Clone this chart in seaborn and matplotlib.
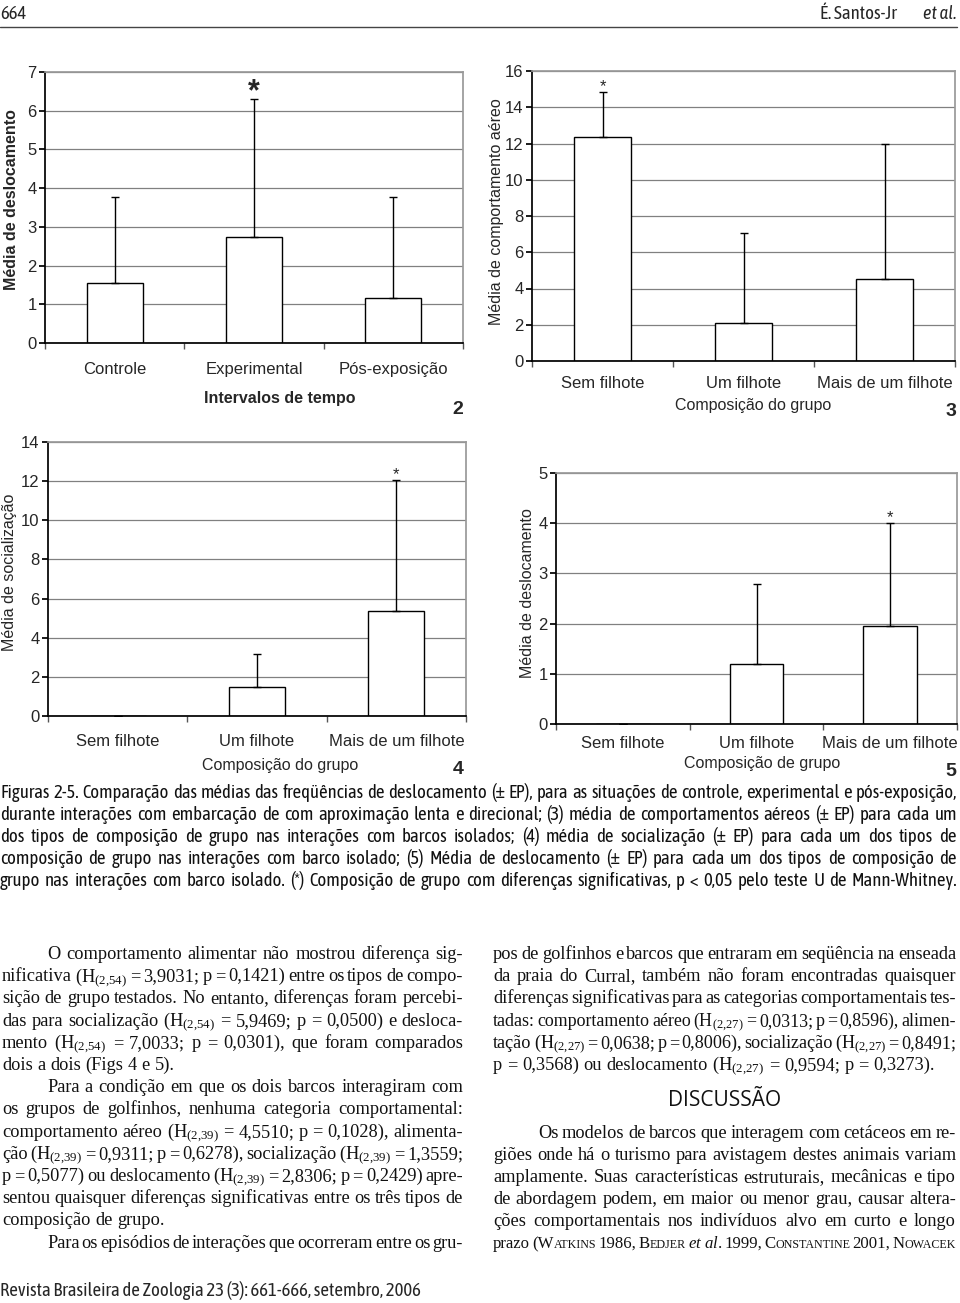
#Figuras 2-5: medias (+EP) por intervalo de tempo e composicao do grupo
import numpy as np
import matplotlib
matplotlib.use('Agg')
import matplotlib.pyplot as plt
import seaborn as sns

#Dados
tempo_cats = ['Controle', 'Experimental', 'Pós-exposição']
desl_tempo_mean = [1.56, 2.73, 1.17]
desl_tempo_top = [3.76, 6.31, 3.78]

grupo_cats = ['Sem filhote', 'Um filhote', 'Mais de um filhote']
aereo_mean = [12.37, 2.07, 4.53]
aereo_top = [14.85, 7.08, 11.97]
social_mean = [0.0, 1.48, 5.38]
social_top = [0.0, 3.19, 12.06]
desl_grupo_mean = [0.0, 1.19, 1.96]
desl_grupo_top = [0.0, 2.79, 4.01]

sns.set_theme(style='white')
plt.rcParams['font.family'] = ['Liberation Sans', 'DejaVu Sans']
plt.rcParams['mathtext.fontset'] = 'custom'
plt.rcParams['mathtext.rm'] = 'Liberation Serif'
plt.rcParams['mathtext.it'] = 'Liberation Serif:italic'
plt.rcParams['mathtext.default'] = 'regular'

cond = ['Asap Condensed', 'Liberation Sans']
serif = ['Liberation Serif', 'DejaVu Serif']

W, H = 960, 1303
fig = plt.figure(figsize=(W / 100, H / 100), dpi=100)
fig.patch.set_facecolor('white')


def px_axes(l, t, r, b):
    return fig.add_axes([l / W, 1 - b / H, (r - l) / W, (b - t) / H])


def bar_chart(ax, cats, means, tops, ymax, step, pad):
    sns.barplot(x=cats, y=means, ax=ax, color='white', edgecolor='black', linewidth=1,
                width=0.4, saturation=1, errorbar=None, zorder=2)
    errs = np.array(tops) - np.array(means)
    ax.errorbar(range(len(cats)), means, yerr=[np.zeros(len(cats)), errs], fmt='none',
                ecolor='black', elinewidth=1, capsize=3, capthick=1, zorder=3)
    ax.set_xlim(-0.5, len(cats) - 0.5)
    ax.set_ylim(0, ymax)
    ax.set_yticks(np.arange(0, ymax + step / 2, step))
    ax.set_xticks(np.arange(-0.5, len(cats), 1), minor=True)
    ax.tick_params(axis='x', which='major', length=0, pad=pad, labelsize=12)
    ax.tick_params(axis='x', which='minor', length=4, color='#555', direction='out', bottom=True)
    ax.tick_params(axis='y', length=4, color='black', direction='out', left=True, labelsize=12, pad=2)
    ax.yaxis.grid(True, color='#808080', linewidth=0.9)
    ax.set_axisbelow(True)
    for s in ['top', 'right']:
        ax.spines[s].set_color('#999999')
    for s in ['left', 'bottom']:
        ax.spines[s].set_color('black')
    ax.set_facecolor('white')


def star(ax, i, top, size, bold, off):
    ax.annotate('*', (i, top), xytext=(0, off), textcoords='offset points', ha='center',
                va='center', fontsize=size, fontweight='bold' if bold else 'normal')


def labels(ax, xl, xl_xy, yl, yl_xy, bold):
    w = 'bold' if bold else 'normal'
    ax.set_xlabel(xl, fontsize=11.5, fontweight=w)
    ax.xaxis.set_label_coords(*xl_xy)
    ax.xaxis.label.set_va('center')
    ax.set_ylabel(yl, fontsize=11.5, fontweight=w)
    ax.yaxis.set_label_coords(*yl_xy)
    ax.yaxis.label.set_va('center')


#Figura 2
ax2 = px_axes(45, 72, 463, 343)
bar_chart(ax2, tempo_cats, desl_tempo_mean, desl_tempo_top, 7, 1, 14)
star(ax2, 1, desl_tempo_top[1], 22, True, 5)
labels(ax2, 'Intervalos de tempo', (0.562, -0.203), 'Média de deslocamento', (-0.079, 0.528), True)

#Figura 3
ax3 = px_axes(532, 71, 955, 361)
bar_chart(ax3, grupo_cats, aereo_mean, aereo_top, 16, 2, 11)
star(ax3, 0, aereo_top[0], 12, False, 4)
labels(ax3, 'Composição do grupo', (0.522, -0.152), 'Média de comportamento aéreo', (-0.083, 0.514), False)

#Figura 4
ax4 = px_axes(48, 442, 466, 716)
bar_chart(ax4, grupo_cats, social_mean, social_top, 14, 2, 13)
star(ax4, 2, social_top[2], 12, False, 4)
labels(ax4, 'Composição do grupo', (0.555, -0.179), 'Média de socialização', (-0.091, 0.526), False)

#Figura 5
ax5 = px_axes(556, 473, 957, 724)
bar_chart(ax5, grupo_cats, desl_grupo_mean, desl_grupo_top, 5, 1, 9)
star(ax5, 2, desl_grupo_top[2], 12, False, 4)
labels(ax5, 'Composição de grupo', (0.514, -0.159), 'Média de deslocamento', (-0.070, 0.522), False)

for num, x, y in [('2', 458, 410), ('3', 951, 411), ('4', 458, 769), ('5', 951, 771)]:
    fig.text(x / W, 1 - y / H, num, ha='center', va='center', fontsize=14, fontweight='bold')

renderer = fig.canvas.get_renderer()


def make_words(line, size, family, y):
    #cada palavra vira um texto; '^' marca versalete
    words = []
    for w in line.split():
        parts = w.split('^')
        pieces = [(parts[0], size)] + [(p.upper(), size * 0.72) for p in parts[1:]]
        arts = []
        for txt, fs in pieces:
            if txt:
                arts.append(fig.text(0, 1 - y / H, txt, fontsize=fs, family=family,
                                     va='baseline', ha='left', color='#111111'))
        ws = [a.get_window_extent(renderer).width for a in arts]
        words.append((arts, ws))
    return words


def space(size, k=0.25):
    return size * k * 100 / 72


def put_lines(lines, y0, dy, size0, family, kmin=0.17):
    for i, (line, x0, x1, just) in enumerate(lines):
        y = y0 + dy * i
        size = size0
        words = make_words(line, size, family, y)
        total = sum(sum(ws) for _, ws in words)
        need = total + (len(words) - 1) * space(size, kmin)
        if need > x1 - x0:
            #linha larga demais: reduz so esta linha
            for arts, _ in words:
                for a in arts:
                    a.remove()
            size = size0 * (x1 - x0) / need
            words = make_words(line, size, family, y)
            total = sum(sum(ws) for _, ws in words)
        gap = space(size)
        if just and len(words) > 1:
            gap = (x1 - x0 - total) / (len(words) - 1)
        x = x0
        for arts, ws in words:
            for a, w in zip(arts, ws):
                a.set_x(x / W)
                x += w
            x += gap


#Cabecalho e rodape
fig.text(0 / W, 1 - 19 / H, '664', fontsize=13.5, family=cond, va='baseline')
fig.text(897 / W, 1 - 19 / H, 'É. Santos-Jr', fontsize=13.5, family=cond, va='baseline', ha='right')
fig.text(957 / W, 1 - 19 / H, 'et al.', fontsize=13.5, family=cond, style='italic', va='baseline', ha='right')
fig.add_artist(plt.Line2D([0, 957 / W], [1 - 27 / H, 1 - 27 / H], color='#444444', lw=1))
fig.text(0 / W, 1 - 1296 / H, 'Revista Brasileira de Zoologia 23 (3): 661-666, setembro, 2006',
         fontsize=13.5, family=cond, va='baseline')

#Legenda
caption = [
    'Figuras 2-5. Comparação das médias das freqüências de deslocamento (± EP), para as situações de controle, experimental e pós-exposição,',
    'durante interações com embarcação de com aproximação lenta e direcional; (3) média de comportamentos aéreos (± EP) para cada um',
    'dos tipos de composição de grupo nas interações com barcos isolados; (4) média de socialização (± EP) para cada um dos tipos de',
    'composição de grupo nas interações com barco isolado; (5) Média de deslocamento (± EP) para cada um dos tipos de composição de',
    'grupo nas interações com barco isolado. (*) Composição de grupo com diferenças significativas, p < 0,05 pelo teste U de Mann-Whitney.',
]
put_lines([(l, 0, 957, True) for l in caption], 798, 22, 13.5, cond, 0.2)

#Texto da coluna esquerda
left_col = [
    ('O comportamento alimentar não mostrou diferença sig-', True, True),
    ('nificativa (H$_{(2{,}54)}$ = 3,9031; p = 0,1421) entre os tipos de compo-', False, True),
    ('sição de grupo testados. No entanto, diferenças foram percebi-', False, True),
    ('das para socialização (H$_{(2{,}54)}$ = 5,9469; p = 0,0500) e desloca-', False, True),
    ('mento (H$_{(2{,}54)}$ = 7,0033; p = 0,0301), que foram comparados', False, True),
    ('dois a dois (Figs 4 e 5).', False, False),
    ('Para a condição em que os dois barcos interagiram com', True, True),
    ('os grupos de golfinhos, nenhuma categoria comportamental:', False, True),
    ('comportamento aéreo (H$_{(2{,}39)}$ = 4,5510; p = 0,1028), alimenta-', False, True),
    ('ção (H$_{(2{,}39)}$ = 0,9311; p = 0,6278), socialização (H$_{(2{,}39)}$ = 1,3559;', False, True),
    ('p = 0,5077) ou deslocamento (H$_{(2{,}39)}$ = 2,8306; p = 0,2429) apre-', False, True),
    ('sentou quaisquer diferenças significativas entre os três tipos de', False, True),
    ('composição de grupo.', False, False),
    ('Para os episódios de interações que ocorreram entre os gru-', True, True),
]
put_lines([(l, 47 if ind else 2, 463, j) for l, ind, j in left_col], 959, 22.2, 13.2, serif, 0.12)

#Texto da coluna direita
right_col = [
    ('pos de golfinhos e barcos que entraram em seqüência na enseada', False, True),
    ('da praia do Curral, também não foram encontradas quaisquer', False, True),
    ('diferenças significativas para as categorias comportamentais tes-', False, True),
    ('tadas: comportamento aéreo (H$_{(2{,}27)}$ = 0,0313; p = 0,8596), alimen-', False, True),
    ('tação (H$_{(2{,}27)}$ = 0,0638; p = 0,8006), socialização (H$_{(2{,}27)}$ = 0,8491;', False, True),
    ('p = 0,3568) ou deslocamento (H$_{(2{,}27)}$ = 0,9594; p = 0,3273).', False, False),
]
put_lines([(l, 493, 956, j) for l, ind, j in right_col], 959, 22.2, 13.2, serif, 0.12)

fig.text(725 / W, 1 - 1106 / H, 'DISCUSSÃO', fontsize=15, family='Open Sans', fontweight=500,
         ha='center', va='baseline', color='#111111')

right_col2 = [
    ('Os modelos de barcos que interagem com cetáceos em re-', True, True),
    ('giões onde há o turismo para avistagem destes animais variam', False, True),
    ('amplamente. Suas características estruturais, mecânicas e tipo', False, True),
    ('de abordagem podem, em maior ou menor grau, causar altera-', False, True),
    ('ções comportamentais nos indivíduos alvo em curto e longo', False, True),
    ('prazo (W^atkins 1986, B^edjer $\\mathit{et}$ $\\mathit{al}$. 1999, C^onstantine 2001, N^owacek', False, True),
]
put_lines([(l, 538 if ind else 493, 956, j) for l, ind, j in right_col2], 1138, 22, 13.2, serif, 0.12)

fig.savefig('out.png', dpi=100, facecolor='white')
